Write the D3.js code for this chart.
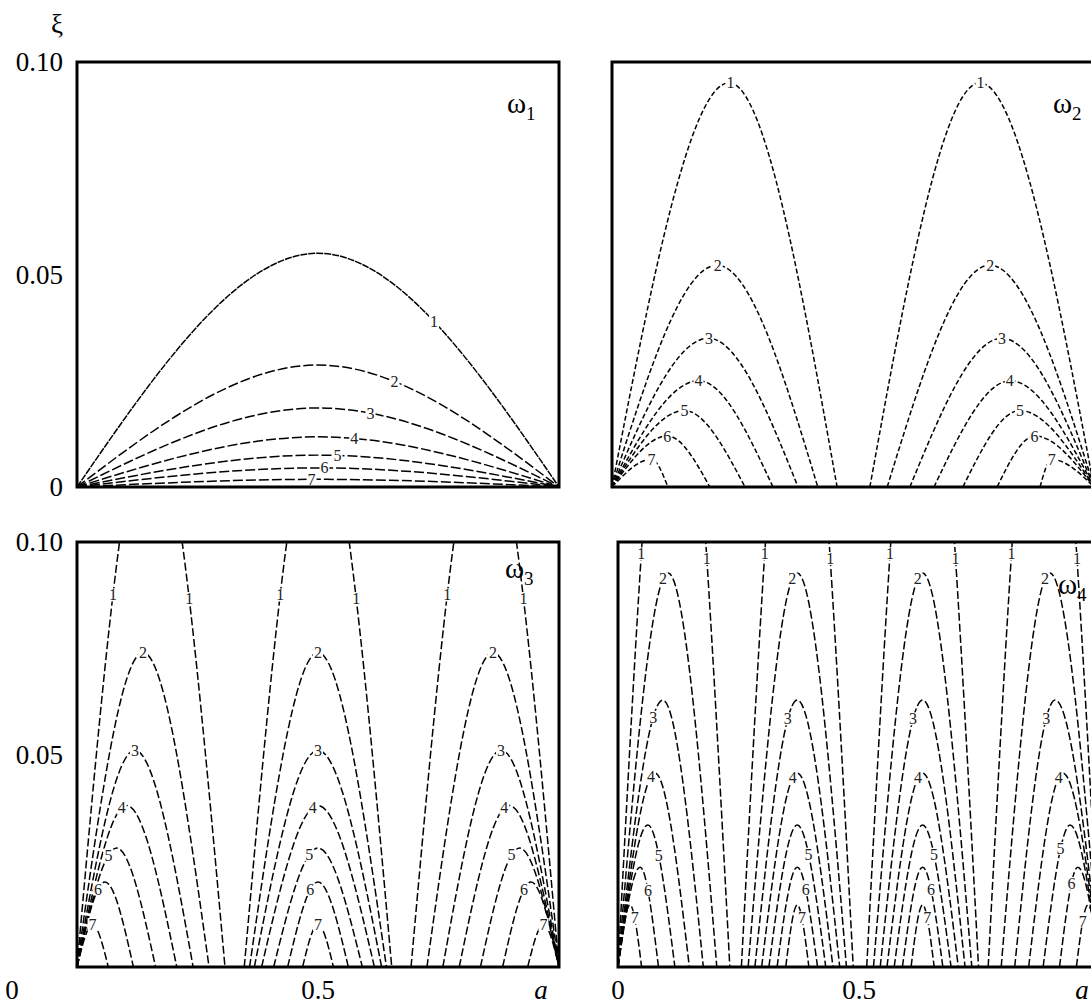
<!DOCTYPE html>
<html>
<head>
<meta charset="utf-8">
<title>xi contours, omega 1-4</title>
<script src="https://d3js.org/d3.v7.min.js"></script>
<style>
  body { margin:0; background:#fff; }
  text { font-family:"Liberation Serif","DejaVu Serif",serif; }
</style>
</head>
<body>
<script>
// contour levels 1..7, every curve is an arch: left foot, top (x, xi), right foot
var levels = [1, 2, 3, 4, 5, 6, 7];
var yTickVals = [0, 0.05, 0.10];
var yTickText = ["0", "0.05", "0.10"];
var xTickText = ["0", "0.5", "a"];

// omega 1 : one family from corner to corner
var w1Peak  = [0.055, 0.0287, 0.0186, 0.0118, 0.0075, 0.0045, 0.0018];
var w1Left  = [0, 0, 0, 0, 0, 0, 0];
var w1Top   = [0.5, 0.5, 0.5, 0.5, 0.5, 0.5, 0.5];
var w1Right = [1, 1, 1, 1, 1, 1, 1];
var w1Lab   = [0.48, 0.32, 0.22, 0.15, 0.08, 0.03, -0.03];

// omega 2 : two families
var w2Peak   = [0.0951, 0.0522, 0.035, 0.025, 0.018, 0.012, 0.0065];
var w2aLeft  = [0, 0, 0, 0, 0, 0, 0];
var w2aTop   = [0.243, 0.218, 0.200, 0.180, 0.150, 0.115, 0.082];
var w2aRight = [0.467, 0.427, 0.386, 0.334, 0.276, 0.203, 0.116];
var w2bLeft  = [0.535, 0.571, 0.618, 0.668, 0.728, 0.799, 0.888];
var w2bTop   = [0.763, 0.784, 0.809, 0.826, 0.846, 0.877, 0.912];
var w2bRight = [1, 1, 1, 1, 1, 1, 1];
var w2Lab    = [0, 0, 0, 0, 0, 0, 0];

// omega 3 : three families
var w3Peak   = [0.13, 0.074, 0.051, 0.038, 0.028, 0.020, 0.010];
var w3aLeft  = [0, 0, 0, 0, 0, 0, 0];
var w3aTop   = [0.153, 0.137, 0.120, 0.103, 0.082, 0.058, 0.032];
var w3aRight = [0.307, 0.274, 0.241, 0.207, 0.163, 0.117, 0.065];
var w3bLeft  = [0.347, 0.358, 0.368, 0.383, 0.408, 0.437, 0.468];
var w3bTop   = [0.5, 0.5, 0.5, 0.5, 0.5, 0.5, 0.5];
var w3bRight = [0.653, 0.642, 0.632, 0.617, 0.592, 0.563, 0.532];
var w3cLeft  = [0.693, 0.726, 0.759, 0.793, 0.837, 0.883, 0.935];
var w3cTop   = [0.847, 0.863, 0.880, 0.897, 0.918, 0.942, 0.968];
var w3cRight = [1, 1, 1, 1, 1, 1, 1];
var w3Lab    = [0, 0, 0, -0.1, -0.2, -0.25, 0];

// omega 4 : four families
var w4Peak   = [0.165, 0.0927, 0.0628, 0.0456, 0.0334, 0.0235, 0.0146];
var w4aLeft  = [0, 0, 0, 0, 0, 0, 0];
var w4aTop   = [0.116, 0.104, 0.093, 0.077, 0.062, 0.046, 0.025];
var w4aRight = [0.232, 0.205, 0.177, 0.148, 0.118, 0.084, 0.049];
var w4bLeft  = [0.256, 0.270, 0.284, 0.298, 0.313, 0.330, 0.348];
var w4bTop   = [0.372, 0.372, 0.372, 0.372, 0.372, 0.372, 0.372];
var w4bRight = [0.488, 0.474, 0.460, 0.446, 0.431, 0.414, 0.396];
var w4cLeft  = [0.516, 0.530, 0.544, 0.558, 0.573, 0.590, 0.608];
var w4cTop   = [0.632, 0.632, 0.632, 0.632, 0.632, 0.632, 0.632];
var w4cRight = [0.748, 0.734, 0.720, 0.706, 0.691, 0.674, 0.656];
var w4dLeft  = [0.768, 0.795, 0.823, 0.852, 0.882, 0.916, 0.951];
var w4dTop   = [0.884, 0.896, 0.907, 0.923, 0.938, 0.954, 0.975];
var w4dRight = [1, 1, 1, 1, 1, 1, 1];
var w4Lab    = [0, -0.1, -0.22, -0.12, 0.4, 0.42, 0.4];
var w4dLab   = [0, -0.1, -0.22, -0.12, -0.35, -0.35, -0.45];

var panels = [
  {sub:"1", box:[77, 62, 482, 425], peak:w1Peak, legXi:null,
   fams:[[w1Left, w1Top, w1Right, w1Lab]],
   dash:["7,1","10,3","10,3","10,3","10,3","10,3","10,3"],
   title:[507, 113], yAxis:true, xAxis:false},
  {sub:"2", box:[612, 62, 482, 425], peak:w2Peak, legXi:null,
   fams:[[w2aLeft, w2aTop, w2aRight, w2Lab], [w2bLeft, w2bTop, w2bRight, w2Lab]],
   dash:["5,2.5","5,2.5","5,2.5","5,2.5","5,2.5","5,2.5","5,2.5"],
   title:[1053, 113], yAxis:false, xAxis:false},
  {sub:"3", box:[77, 542, 482, 425], peak:w3Peak, legXi:0.087,
   fams:[[w3aLeft, w3aTop, w3aRight, w3Lab], [w3bLeft, w3bTop, w3bRight, w3Lab], [w3cLeft, w3cTop, w3cRight, w3Lab]],
   dash:null, title:[505, 578], yAxis:true, xAxis:true},
  {sub:"4", box:[618, 542, 482, 425], peak:w4Peak, legXi:0.097,
   fams:[[w4aLeft, w4aTop, w4aRight, w4Lab], [w4bLeft, w4bTop, w4bRight, w4Lab], [w4cLeft, w4cTop, w4cRight, w4Lab], [w4dLeft, w4dTop, w4dRight, w4dLab]],
   dash:null, title:[1058, 594], yAxis:false, xAxis:true}
];

var svg = d3.select("body").append("svg")
    .attr("width", 1091)
    .attr("height", 1004);

var defs = svg.append("defs");

function sample(node) {
  var len = node.getTotalLength(), pts = [];
  for (var k = 0; k <= 300; k++) {
    var p = node.getPointAtLength(len * k / 300);
    pts.push([p.x, p.y]);
  }
  return pts;
}

function addLabel(g, px, py, txt) {
  var t = g.append("text")
      .attr("x", px).attr("y", py)
      .attr("text-anchor", "middle")
      .attr("dominant-baseline", "central")
      .attr("font-size", "16px")
      .attr("fill", "#222")
      .text(txt);
  var b = t.node().getBBox();
  g.insert("rect", function() { return t.node(); })
      .attr("x", b.x - 1).attr("y", b.y + 2)
      .attr("width", b.width + 2).attr("height", b.height - 4)
      .attr("fill", "#fff");
}

panels.forEach(function(p, pi) {
  var bx = p.box[0], by = p.box[1], bw = p.box[2], bh = p.box[3];
  var x = d3.scaleLinear().domain([0, 1]).range([bx, bx + bw]);
  var y = d3.scaleLinear().domain([0, 0.10]).range([by + bh, by]);

  defs.append("clipPath").attr("id", "clip" + pi)
    .append("rect").attr("x", bx).attr("y", by).attr("width", bw).attr("height", bh);

  var g = svg.append("g").attr("clip-path", "url(#clip" + pi + ")");
  var line = d3.line()
      .x(function(d) { return x(d[0]); })
      .y(function(d) { return y(d[1]); })
      .curve(d3.curveMonotoneX);

  var labels = [];
  p.fams.forEach(function(f) {
    levels.forEach(function(lv, i) {
      var L = f[0][i], T = f[1][i], R = f[2][i];
      var path = g.append("path")
          .attr("d", line([[L, 0], [T, p.peak[i]], [R, 0]]))
          .attr("fill", "none")
          .attr("stroke", "#000")
          .attr("stroke-width", 1.5)
          .attr("stroke-dasharray", p.dash ? p.dash[i] : "8,3");
      var pts = sample(path.node());
      if (i == 0 && p.legXi) {
        var ty = y(p.legXi), first = null, last = null;
        for (var k = 1; k < pts.length; k++) {
          if ((pts[k - 1][1] - ty) * (pts[k][1] - ty) <= 0) {
            if (first === null) first = pts[k];
            last = pts[k];
          }
        }
        if (first) labels.push([first[0], first[1], lv]);
        if (last) labels.push([last[0], last[1], lv]);
      } else {
        var u = f[3][i];
        var tx = x(u >= 0 ? T + u * (R - T) : T + u * (T - L));
        var best = pts[0];
        pts.forEach(function(q) { if (Math.abs(q[0] - tx) < Math.abs(best[0] - tx)) best = q; });
        labels.push([best[0], best[1], lv]);
      }
    });
  });

  var lg = svg.append("g").attr("clip-path", "url(#clip" + pi + ")");
  labels.forEach(function(d) { addLabel(lg, d[0], d[1], d[2]); });

  // frame
  svg.append("rect")
      .attr("x", bx).attr("y", by).attr("width", bw).attr("height", bh)
      .attr("fill", "none").attr("stroke", "#000").attr("stroke-width", 3);

  // title omega_n
  var tt = svg.append("text")
      .attr("x", p.title[0]).attr("y", p.title[1])
      .attr("font-size", "29px");
  tt.append("tspan").text("\u03c9");
  tt.append("tspan").attr("font-size", "19px").attr("dy", 7).text(p.sub);

  if (p.yAxis) {
    yTickVals.forEach(function(v, k) {
      if (p.xAxis && v == 0) return;
      svg.append("text")
          .attr("x", 63).attr("y", y(v))
          .attr("text-anchor", "end")
          .attr("dominant-baseline", "central")
          .attr("font-size", "27px")
          .text(yTickText[k]);
    });
  }
  if (p.xAxis) {
    var xs = pi == 2 ? [12, x(0.5), x(1) - 18] : [x(0), x(0.5), x(1) - 18];
    xTickText.forEach(function(s, k) {
      svg.append("text")
          .attr("x", xs[k]).attr("y", 999)
          .attr("text-anchor", "middle")
          .attr("font-size", "27px")
          .attr("font-style", k == 2 ? "italic" : "normal")
          .text(s);
    });
  }
});

// axis symbol
svg.append("text")
    .attr("x", 57).attr("y", 33)
    .attr("text-anchor", "middle")
    .attr("font-size", "27px")
    .text("\u03be");
</script>
</body>
</html>
